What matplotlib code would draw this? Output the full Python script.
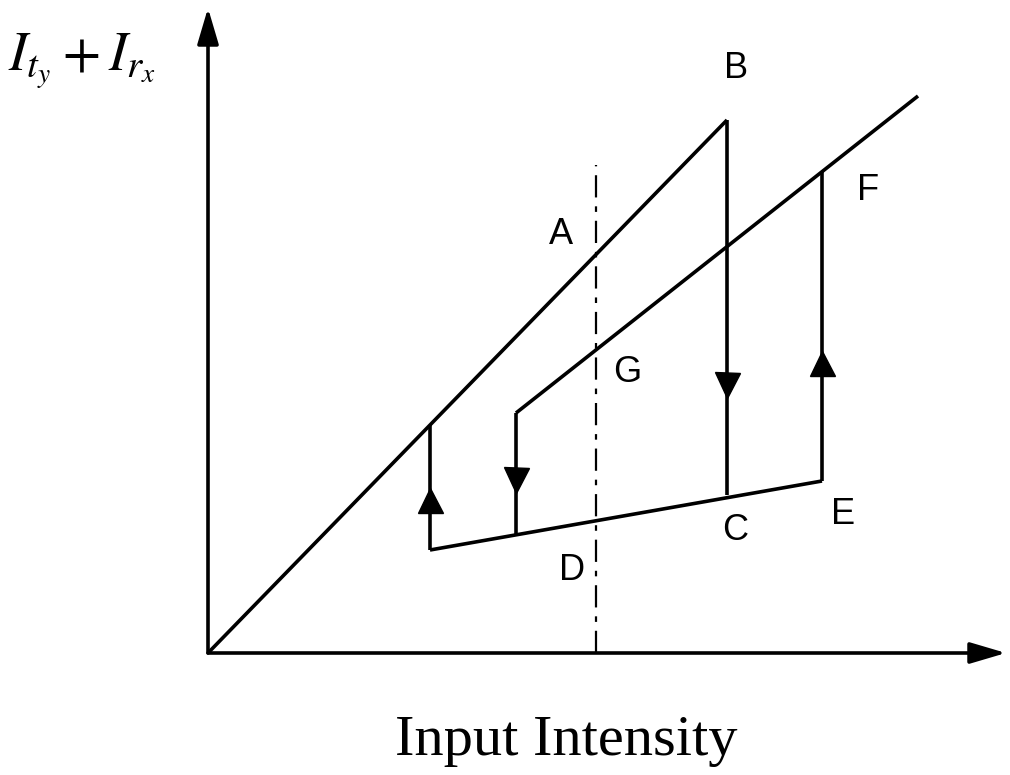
import matplotlib
matplotlib.use("Agg")
import matplotlib.pyplot as plt

# Diagram data (units: origin at axes corner)
upper_line_x = [0, 519]
upper_line_y = [0, 533]
drop_B_x = [519, 519]
drop_B_y = [533, 158]
lower_line_x = [222, 614]
lower_line_y = [103, 172]
rise_E_x = [614, 614]
rise_E_y = [172, 481]
middle_line_x = [308, 710]
middle_line_y = [240, 557]
left_rise_x = [222, 222]
left_rise_y = [103, 228]
mid_drop_x = [308, 308]
mid_drop_y = [240, 118]
dashdot_x = [388, 388]
dashdot_y = [0, 488]

arrow_up_x = [222, 614]
arrow_up_y = [153, 290]
arrow_down_x = [308, 519]
arrow_down_y = [173, 268]

point_labels = ["B", "A", "F", "G", "C", "E", "D"]
label_x = [528, 353, 660, 419, 527, 635, 364]
label_y = [584, 419, 463, 281, 123, 138, 83]

fig = plt.figure(figsize=(10.10, 7.75), dpi=100)
ax = fig.add_axes([0, 0, 1, 1])
ax.set_xlim(-208, 802)
ax.set_ylim(-122, 653)
ax.axis("off")

lw = 2.6
k = "black"
for xs, ys in [(upper_line_x, upper_line_y), (drop_B_x, drop_B_y),
               (lower_line_x, lower_line_y), (rise_E_x, rise_E_y),
               (middle_line_x, middle_line_y), (left_rise_x, left_rise_y),
               (mid_drop_x, mid_drop_y)]:
    ax.plot(xs, ys, color=k, lw=lw, solid_capstyle="butt", solid_joinstyle="miter")

ax.plot(dashdot_x, dashdot_y, color=k, lw=1.6, dashes=(10, 4, 2.5, 4))

ax.plot(arrow_up_x, arrow_up_y, linestyle="none", marker="^", ms=18, color=k)
ax.plot(arrow_down_x, arrow_down_y, linestyle="none", marker="v", ms=18, color=k)

# axes arrows
ax.annotate("", xy=(0, 645), xytext=(0, 0),
            arrowprops=dict(arrowstyle="-|>,head_length=2.2,head_width=0.65",
                            mutation_scale=10, lw=lw, color=k, shrinkA=0, shrinkB=0))
ax.annotate("", xy=(798, 0), xytext=(0, 0),
            arrowprops=dict(arrowstyle="-|>,head_length=2.2,head_width=0.65",
                            mutation_scale=10, lw=lw, color=k, shrinkA=0, shrinkB=0))

for t, x, y in zip(point_labels, label_x, label_y):
    ax.text(x, y, t, fontsize=26, family="Liberation Sans", ha="center", va="center")

plt.rcParams["mathtext.fontset"] = "stix"
ax.text(-200, 583, r"$I_{t_y}+I_{r_x}$", fontsize=40, ha="left", va="baseline")
ax.text(358, -102, "Input Intensity", fontsize=42, family="Liberation Serif",
        ha="center", va="baseline")

fig.savefig("out.png", dpi=100)
